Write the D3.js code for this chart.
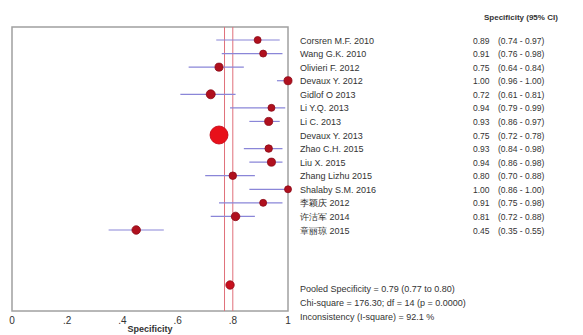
<!DOCTYPE html>
<html><head><meta charset="utf-8">
<script src="https://cdn.jsdelivr.net/npm/d3@7"></script>
<style>
body{margin:0;background:#fff;}
text{font-family:"Liberation Sans",Arial,sans-serif;fill:#333;}
</style></head><body>
<svg id="c" width="583" height="335"></svg>
<script>
const studies = ["Corsren M.F. 2010","Wang G.K. 2010","Olivieri F. 2012","Devaux Y. 2012","Gidlof O 2013","Li Y.Q. 2013","Li C. 2013","Devaux Y. 2013","Zhao C.H. 2015","Liu X. 2015","Zhang Lizhu 2015","Shalaby S.M. 2016","李颖庆 2012","许洁军 2014","章丽琼 2015"];
const spec  = [0.89,0.91,0.75,1.00,0.72,0.94,0.93,0.75,0.93,0.94,0.80,1.00,0.91,0.81,0.45];
const lower = [0.74,0.76,0.64,0.96,0.61,0.79,0.86,0.72,0.84,0.86,0.70,0.86,0.75,0.72,0.35];
const upper = [0.97,0.98,0.84,1.00,0.81,0.99,0.97,0.78,0.98,0.98,0.88,1.00,0.98,0.88,0.55];
const weights = [3,3,4,4,5,2.5,4,20,3.5,4,3.5,2.5,3,4.5,4.5];
const pooled = {est:0.79, lo:0.77, hi:0.80};
const xTicks = [0,0.2,0.4,0.6,0.8,1];
const xTickLabels = ["0",".2",".4",".6",".8","1"];
const summaryLines = ["Pooled Specificity = 0.79 (0.77 to 0.80)","Chi-square = 176.30; df =  14 (p = 0.0000)","Inconsistency (I-square) = 92.1 %"];
const header = "Specificity (95% CI)";
const xTitle = "Specificity";

const svg = d3.select("#c");
const L=12,R=288,T=27,B=311;
const x = d3.scaleLinear().domain([0,1]).range([L,R]);
const rowIdx = d3.range(studies.length);
const y = d3.scaleLinear().domain([0,14]).range([40,230]);
const yPooled = 285;
const r = d3.scaleSqrt().domain([0,d3.max(weights)]).range([0,9]);

svg.append("rect").attr("x",L).attr("y",T).attr("width",R-L).attr("height",B-T)
  .attr("fill","none").attr("stroke","#a0a0a0").attr("stroke-width",1.5);

[pooled.lo,pooled.hi].forEach(v=>{
  svg.append("line").attr("x1",x(v)).attr("x2",x(v)).attr("y1",T).attr("y2",B)
    .attr("stroke","#e0707a").attr("stroke-width",1);
});

svg.selectAll(".ci").data(rowIdx).enter().append("line")
  .attr("x1",i=>x(lower[i])).attr("x2",i=>x(upper[i]))
  .attr("y1",i=>y(i)).attr("y2",i=>y(i))
  .attr("stroke","#8a86d8").attr("stroke-width",1.2);

svg.selectAll(".pt").data(rowIdx).enter().append("circle")
  .attr("cx",i=>x(spec[i])).attr("cy",i=>y(i))
  .attr("r",i=>Math.max(3.5,r(weights[i])))
  .attr("fill",i=>weights[i]>10?"#e8101a":"#b0101e")
  .attr("stroke",i=>weights[i]>10?"#c00010":"#8a0a18").attr("stroke-width",0.8);

svg.append("circle").attr("cx",x(pooled.est)).attr("cy",yPooled).attr("r",4.2)
  .attr("fill","#c8101e").attr("stroke","#900a18").attr("stroke-width",0.8);

svg.selectAll(".xt").data(xTicks).enter().append("text")
  .attr("x",d=>x(d)).attr("y",324).attr("text-anchor","middle")
  .attr("font-size",10).text((d,i)=>xTickLabels[i]);
svg.append("text").attr("x",x(0.5)).attr("y",332).attr("text-anchor","middle")
  .attr("font-size",9).attr("font-weight","bold").text(xTitle);

svg.append("text").attr("x",484).attr("y",20).attr("font-size",8).attr("font-weight","bold").text(header);

const g = svg.append("g");
rowIdx.forEach(i=>{
  g.append("text").attr("x",300).attr("y",y(i)+3.5).attr("font-size",9).text(studies[i]);
  g.append("text").attr("x",473).attr("y",y(i)+3.5).attr("font-size",8.5).text(spec[i].toFixed(2));
  g.append("text").attr("x",498).attr("y",y(i)+3.5).attr("font-size",8.5)
    .text("("+lower[i].toFixed(2)+" - "+upper[i].toFixed(2)+")");
});
summaryLines.forEach((s,k)=>{
  svg.append("text").attr("x",300).attr("y",292+k*14).attr("font-size",9).text(s);
});
</script></body></html>
